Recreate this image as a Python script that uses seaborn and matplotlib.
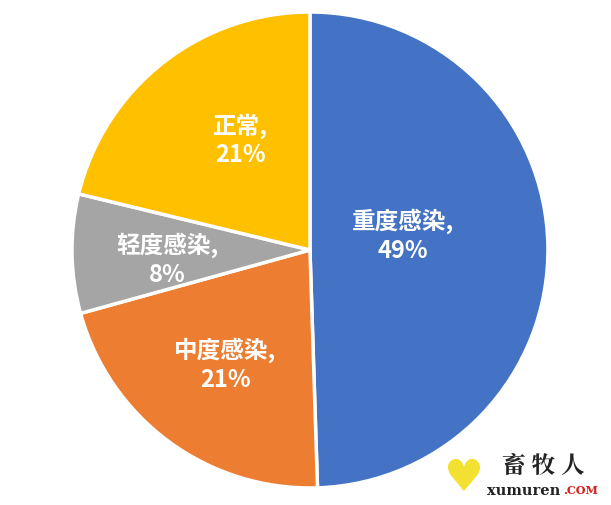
import matplotlib
matplotlib.use("Agg")
import matplotlib.pyplot as plt
import seaborn as sns

labels = ["重度感染", "中度感染", "轻度感染", "正常"]
values = [49, 21, 8, 21]
pct_labels = ["49%", "21%", "8%", "21%"]
colors = ["#4472C4", "#ED7D31", "#A5A5A5", "#FFC000"]

sns.set_theme(style="white")
plt.rcParams["font.family"] = ["Noto Sans CJK SC", "DejaVu Sans"]

fig = plt.figure(figsize=(6.11, 5.05), dpi=100)
fig.patch.set_facecolor("white")
ax = fig.add_axes([0.1178, 0.0337, 0.779, 0.9426])

texts = [f"{n},\n{p}" for n, p in zip(labels, pct_labels)]
wedges, txts = ax.pie(values, labels=texts, colors=colors, startangle=90,
                      counterclock=False, labeldistance=0.6,
                      wedgeprops=dict(edgecolor="white", linewidth=2.5),
                      textprops=dict(color="white", fontsize=17,
                                     fontweight="bold",
                                     ha="center", va="center",
                                     linespacing=1.25))
for t in txts:
    t.set_horizontalalignment("center")
# nudge labels to where they sit in the original
nudges = [(0.02, 0.055), (0.0, 0.0), (0.0, -0.03), (0.08, -0.01)]
for t, (dx, dy) in zip(txts, nudges):
    x, y = t.get_position()
    if t is txts[0]:
        x, y = x * 0.62, y * 0.62
    t.set_position((x + dx, y + dy))
ax.set_xlim(-1, 1)
ax.set_ylim(-1, 1)
ax.set_aspect("equal")
ax.axis("off")

# watermark
fig.text(0.757, 0.052, "♥", color="#F2E130", fontsize=32, ha="center",
         va="center", family="DejaVu Sans")
fig.text(0.89, 0.077, "畜 牧 人", color="#222222", fontsize=17,
         fontweight="bold", ha="center", va="center", family="Noto Serif CJK SC")
fig.text(0.797, 0.028, "xumuren", color="#222222", fontsize=10.5,
         fontweight="bold", ha="left", va="center", family="DejaVu Serif")
fig.text(0.922, 0.028, ".COM", color="#D62020", fontsize=8,
         fontweight="bold", ha="left", va="center", family="DejaVu Serif")

fig.savefig("out.png", dpi=100, facecolor="white")
